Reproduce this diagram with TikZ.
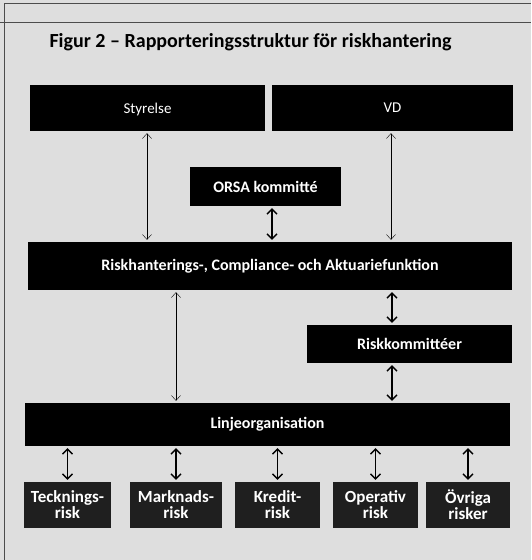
\documentclass[tikz,border=0pt]{standalone}
\usepackage{fontspec}
\setmainfont{Carlito}
\usetikzlibrary{arrows.meta}

\begin{document}
\begin{tikzpicture}[x=1pt,y=-1pt]
\fill[black!13] (0,0) rectangle (531,560);
\useasboundingbox (0,0) rectangle (531,560);
\draw[black!70,thin] (4,560) -- (4,3) -- (531,3);
\draw[black!70,thin] (0,22) -- (531,22);
\node[anchor=west,font=\fontsize{20}{22}\selectfont\bfseries] (title) at (46,42) {Figur 2 -- Rapporteringsstruktur för riskhantering};
\begin{scope}[every node/.style={fill=black,text=white,inner sep=0pt,align=center,font=\fontsize{16}{18}\selectfont\bfseries}]
	\node[minimum width=235,minimum height=46,text depth=0pt,font=\fontsize{15}{18}\selectfont] (sty) at (147.5,108) {Styrelse};
	\node[minimum width=241,minimum height=46,text depth=0pt,font=\fontsize{15}{18}\selectfont] (vd) at (392.5,108) {VD};
	\node[minimum width=151,minimum height=39] (orsa) at (265.5,186.5) {ORSA kommitté};
	\node[minimum width=484,minimum height=48] (rcf) at (270,266) {Riskhanterings-, Compliance- och Aktuariefunktion};
	\node[minimum width=205,minimum height=38] (rk) at (409.5,344) {Riskkommittéer};
	\node[minimum width=485,minimum height=43] (lo) at (267.5,424.5) {Linjeorganisation};
\end{scope}
\begin{scope}[every node/.style={fill=black!88,text=white,inner sep=0pt,align=center,minimum height=46,font=\fontsize{17}{16}\selectfont\bfseries}]
	\node[minimum width=87] (tek) at (67.5,505) {Tecknings-\\risk};
	\node[minimum width=92] (mar) at (176,505) {Marknads-\\risk};
	\node[minimum width=85] (kre) at (277.5,505) {Kredit-\\risk};
	\node[minimum width=85] (ope) at (375.5,505) {Operativ\\risk};
	\node[minimum width=84] (ovr) at (468,505) {Övriga\\risker};
\end{scope}
\coordinate (x1) at (147,0);
\coordinate (x2) at (391,0);
\coordinate (x3) at (272,0);
\coordinate (x4) at (176,0);
\coordinate (x5) at (392,0);
\begin{scope}[>={Straight Barb[length=5pt,width=9pt]}, every edge/.style={draw=black,thin,shorten <=2pt,shorten >=2pt}]
	\path [<->] (sty.south -| x1) edge node {} (rcf.north -| x1);
	\path [<->] (vd.south -| x2) edge node {} (rcf.north -| x2);
	\path [<->] (rcf.south -| x4) edge node {} (lo.north -| x4);
\end{scope}
\begin{scope}[>={Straight Barb[length=5pt,width=10pt]}, every edge/.style={draw=black,line width=1.3pt,shorten <=2pt,shorten >=2pt}]
	\path [<->] (orsa.south -| x3) edge node {} (rcf.north -| x3);
	\path [<->] (rcf.south -| x5) edge node {} (rk.north -| x5);
	\path [<->] (rk.south -| x5) edge node {} (lo.north -| x5);
	\path [<->] (lo.south -| tek) edge node {} (tek);
	\path [<->] (lo.south -| mar) edge node {} (mar);
	\path [<->] (lo.south -| kre) edge node {} (kre);
	\path [<->] (lo.south -| ope) edge node {} (ope);
	\path [<->] (lo.south -| ovr) edge node {} (ovr);
\end{scope}
\end{tikzpicture}
\end{document}
